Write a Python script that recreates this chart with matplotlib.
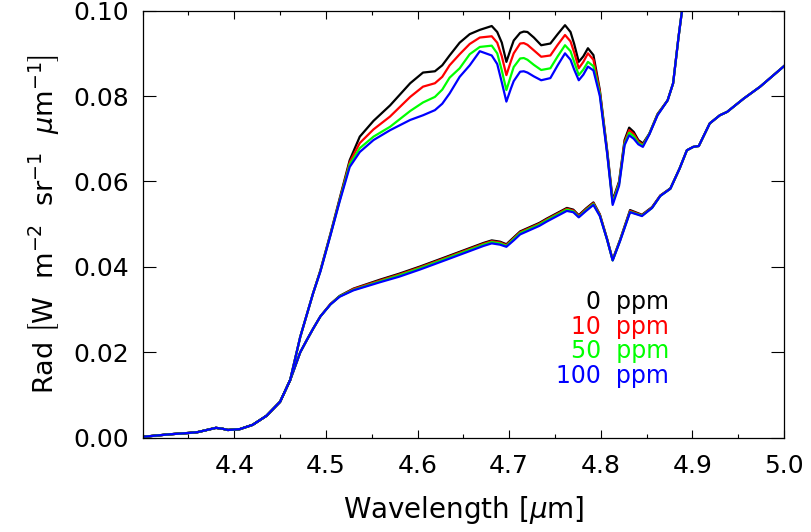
import numpy as np
import matplotlib
matplotlib.use("Agg")
import matplotlib.pyplot as plt
from matplotlib.ticker import MultipleLocator

# ===== datos =====
# tramo comun a todas las curvas (antes de separarse)
wl_base = [4.300, 4.330, 4.350, 4.360, 4.372, 4.380, 4.387, 4.393, 4.406, 4.420, 4.435, 4.450, 4.461]
rad_base = [0.0002, 0.0008, 0.0011, 0.0013, 0.0019, 0.0023, 0.0021, 0.0018, 0.0020, 0.0030, 0.0051, 0.0084, 0.0135]

# grupo superior
wl_up = [4.472, 4.486, 4.494, 4.505, 4.515, 4.526, 4.537, 4.552, 4.570, 4.592,
         4.606, 4.619, 4.627, 4.635, 4.646, 4.657, 4.668, 4.681, 4.687, 4.692,
         4.697, 4.702, 4.705, 4.712, 4.716, 4.720, 4.727, 4.735, 4.745, 4.753,
         4.761, 4.767, 4.771, 4.776, 4.781, 4.786, 4.792, 4.799, 4.807, 4.813,
         4.820, 4.826, 4.831, 4.836, 4.841, 4.846, 4.853, 4.862, 4.873, 4.879,
         4.885, 4.889, 4.893]
up_0 = [0.0236, 0.0338, 0.0392, 0.0478, 0.0560, 0.0650, 0.0705, 0.0742, 0.0778, 0.0830,
        0.0855, 0.0858, 0.0872, 0.0895, 0.0925, 0.0945, 0.0955, 0.0964, 0.0950, 0.0925,
        0.0880, 0.0912, 0.0930, 0.0948, 0.0951, 0.0950, 0.0937, 0.0919, 0.0923, 0.0945,
        0.0966, 0.0950, 0.0922, 0.0880, 0.0893, 0.0912, 0.0896, 0.0814, 0.0673, 0.0556,
        0.0600, 0.0697, 0.0726, 0.0716, 0.0697, 0.0689, 0.0712, 0.0758, 0.0790, 0.0830,
        0.0940, 0.1005, 0.1100]
up_10 = [0.0236, 0.0338, 0.0391, 0.0476, 0.0557, 0.0645, 0.0690, 0.0722, 0.0752, 0.0798,
         0.0822, 0.0830, 0.0845, 0.0872, 0.0898, 0.0922, 0.0937, 0.0940, 0.0925, 0.0893,
         0.0849, 0.0882, 0.0900, 0.0923, 0.0924, 0.0920, 0.0907, 0.0892, 0.0895, 0.0920,
         0.0943, 0.0928, 0.0902, 0.0865, 0.0880, 0.0900, 0.0885, 0.0810, 0.0670, 0.0552,
         0.0597, 0.0692, 0.0720, 0.0711, 0.0694, 0.0686, 0.0711, 0.0757, 0.0790, 0.0830,
         0.0940, 0.1005, 0.1100]
up_50 = [0.0236, 0.0338, 0.0390, 0.0475, 0.0555, 0.0640, 0.0678, 0.0705, 0.0728, 0.0765,
         0.0785, 0.0798, 0.0815, 0.0843, 0.0865, 0.0898, 0.0915, 0.0918, 0.0900, 0.0860,
         0.0814, 0.0848, 0.0868, 0.0888, 0.0889, 0.0885, 0.0873, 0.0861, 0.0865, 0.0893,
         0.0919, 0.0905, 0.0880, 0.0849, 0.0862, 0.0880, 0.0870, 0.0805, 0.0667, 0.0549,
         0.0594, 0.0688, 0.0714, 0.0706, 0.0690, 0.0684, 0.0711, 0.0756, 0.0790, 0.0830,
         0.0940, 0.1005, 0.1100]
up_100 = [0.0236, 0.0338, 0.0389, 0.0474, 0.0553, 0.0634, 0.0669, 0.0697, 0.0720, 0.0744,
          0.0755, 0.0767, 0.0782, 0.0806, 0.0845, 0.0872, 0.0905, 0.0895, 0.0875, 0.0832,
          0.0787, 0.0818, 0.0835, 0.0857, 0.0858, 0.0855, 0.0846, 0.0837, 0.0842, 0.0872,
          0.0900, 0.0885, 0.0862, 0.0837, 0.0850, 0.0869, 0.0860, 0.0800, 0.0665, 0.0545,
          0.0590, 0.0685, 0.0708, 0.0700, 0.0687, 0.0681, 0.0710, 0.0755, 0.0790, 0.0830,
          0.0940, 0.1005, 0.1100]

# grupo inferior
wl_lo = [4.472, 4.479, 4.486, 4.494, 4.505, 4.515, 4.530, 4.559, 4.580, 4.603,
         4.632, 4.657, 4.672, 4.681, 4.690, 4.697, 4.705, 4.712, 4.733, 4.741,
         4.763, 4.770, 4.776, 4.784, 4.792, 4.799, 4.807, 4.813, 4.821, 4.832,
         4.845, 4.856, 4.865, 4.876, 4.886, 4.894, 4.901, 4.907, 4.919, 4.930,
         4.938, 4.956, 4.974, 5.000]
lo_0 = [0.0200, 0.0228, 0.0255, 0.0284, 0.0313, 0.0332, 0.0349, 0.0370, 0.0384, 0.0401,
        0.0424, 0.0444, 0.0456, 0.0462, 0.0459, 0.0453, 0.0469, 0.0483, 0.0503, 0.0513,
        0.0538, 0.0534, 0.0521, 0.0537, 0.0551, 0.0523, 0.0465, 0.0417, 0.0463, 0.0533,
        0.0522, 0.0540, 0.0567, 0.0584, 0.0630, 0.0673, 0.0681, 0.0683, 0.0736, 0.0755,
        0.0763, 0.0794, 0.0822, 0.0870]
lo_10 = [0.0200, 0.0228, 0.0255, 0.0284, 0.0313, 0.0331, 0.0348, 0.0368, 0.0382, 0.0399,
         0.0422, 0.0442, 0.0454, 0.0460, 0.0457, 0.0451, 0.0467, 0.0481, 0.0501, 0.0511,
         0.0536, 0.0532, 0.0519, 0.0535, 0.0549, 0.0522, 0.0464, 0.0416, 0.0462, 0.0531,
         0.0521, 0.0539, 0.0567, 0.0583, 0.0630, 0.0673, 0.0681, 0.0683, 0.0736, 0.0755,
         0.0763, 0.0794, 0.0822, 0.0870]
lo_50 = [0.0200, 0.0228, 0.0255, 0.0284, 0.0312, 0.0331, 0.0346, 0.0366, 0.0380, 0.0397,
         0.0420, 0.0440, 0.0452, 0.0458, 0.0455, 0.0449, 0.0465, 0.0479, 0.0499, 0.0509,
         0.0534, 0.0530, 0.0517, 0.0533, 0.0547, 0.0520, 0.0463, 0.0415, 0.0461, 0.0529,
         0.0520, 0.0538, 0.0566, 0.0583, 0.0630, 0.0673, 0.0681, 0.0683, 0.0736, 0.0755,
         0.0763, 0.0794, 0.0822, 0.0870]
lo_100 = [0.0200, 0.0228, 0.0255, 0.0284, 0.0312, 0.0330, 0.0345, 0.0364, 0.0377, 0.0394,
          0.0417, 0.0437, 0.0449, 0.0455, 0.0452, 0.0447, 0.0462, 0.0476, 0.0496, 0.0506,
          0.0531, 0.0528, 0.0516, 0.0531, 0.0545, 0.0519, 0.0463, 0.0415, 0.0460, 0.0528,
          0.0519, 0.0538, 0.0566, 0.0583, 0.0630, 0.0673, 0.0681, 0.0683, 0.0736, 0.0755,
          0.0763, 0.0794, 0.0822, 0.0870]

etiquetas = ["0  ppm", "10  ppm", "50  ppm", "100  ppm"]
colores = ["#000000", "#ff0000", "#00ff00", "#0000ff"]
series_up = [up_0, up_10, up_50, up_100]
series_lo = [lo_0, lo_10, lo_50, lo_100]

# ===== figura =====
plt.rcParams['font.family'] = ['DejaVu Sans']
plt.rcParams['mathtext.fontset'] = 'dejavusans'

fig = plt.figure(figsize=(8.12, 5.32), dpi=100)
ax = fig.add_axes([0.1757, 0.1773, 0.7898, 0.8027])

for ys, col in zip(series_lo, colores):
    ax.plot(np.concatenate([wl_base, wl_lo]), np.concatenate([rad_base, ys]),
            color=col, linewidth=1.6, solid_joinstyle='round')
for ys, col in zip(series_up, colores):
    ax.plot(np.concatenate([wl_base, wl_up]), np.concatenate([rad_base, ys]),
            color=col, linewidth=1.6, solid_joinstyle='round')

ax.set_xlim(4.3, 5.0)
ax.set_ylim(0.0, 0.10)
ax.xaxis.set_minor_locator(MultipleLocator(0.05))
ax.set_xticks([4.4, 4.5, 4.6, 4.7, 4.8, 4.9, 5.0])
ax.set_xticklabels(["4.4", "4.5", "4.6", "4.7", "4.8", "4.9", "5.0"])
ax.set_yticks([0.0, 0.02, 0.04, 0.06, 0.08, 0.10])
ax.set_yticklabels(["0.00", "0.02", "0.04", "0.06", "0.08", "0.10"])

ax.tick_params(axis='x', which='major', direction='in', length=6.1, width=0.8,
               top=True, labelsize=18, pad=12)
ax.tick_params(axis='x', which='minor', direction='in', length=3.1, width=0.8, top=True)
ax.tick_params(axis='y', which='major', direction='in', length=9.2, width=0.8,
               right=True, labelsize=18, pad=10)
for s in ax.spines.values():
    s.set_linewidth(0.9)

ax.set_xlabel(r'Wavelength $\left[\mu\mathrm{m}\right]$', fontsize=20, labelpad=11)
ax.set_ylabel(r'Rad $\left[\mathrm{W\ \ m^{-2}\ \ sr^{-1}}\ \ \mu\mathrm{m^{-1}}\right]$',
              fontsize=19.5, labelpad=9)

# leyenda como texto de colores
y0 = 0.318
for i, (txt, col) in enumerate(zip(etiquetas, colores)):
    ax.text(0.821, y0 - i * 0.058, txt, color=col, fontsize=17,
            ha='right', va='center', transform=ax.transAxes)

fig.savefig("out.png", dpi=100)
